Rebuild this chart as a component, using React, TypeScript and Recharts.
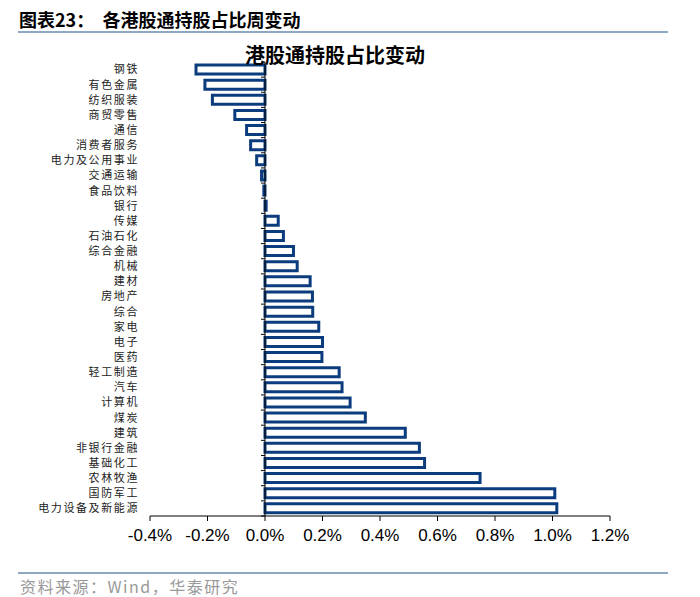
import { BarChart, Bar, XAxis, YAxis, ReferenceLine } from "recharts";

const industries = [
  "钢铁", "有色金属", "纺织服装", "商贸零售", "通信", "消费者服务", "电力及公用事业",
  "交通运输", "食品饮料", "银行", "传媒", "石油石化", "综合金融", "机械", "建材",
  "房地产", "综合", "家电", "电子", "医药", "轻工制造", "汽车", "计算机", "煤炭",
  "建筑", "非银行金融", "基础化工", "农林牧渔", "国防军工", "电力设备及新能源",
];

// weekly change of southbound holding ratio, in %
const changes = [
  -0.24, -0.209, -0.183, -0.105, -0.064, -0.05, -0.029,
  -0.012, -0.004, 0.004, 0.046, 0.064, 0.099, 0.112, 0.157,
  0.165, 0.166, 0.187, 0.2, 0.198, 0.258, 0.268, 0.296, 0.349,
  0.488, 0.537, 0.555, 0.748, 1.008, 1.015,
];

const xTicks = [-0.4, -0.2, 0, 0.2, 0.4, 0.6, 0.8, 1.0, 1.2];

const data = industries.map((name, i) => ({ name, value: changes[i] }));

const BLUE = "#0b3c7d";
const CJK = '"Noto Sans CJK SC", "Noto Sans", sans-serif';

// zero line with small tick marks at each category boundary
const ZeroAxis = (props: any) => {
  const { x1, y1, y2 } = props;
  const n = industries.length;
  const step = (y2 - y1) / n;
  const marks = [];
  for (let i = 0; i <= n; i++) {
    const y = y1 + step * i;
    marks.push(<line key={i} x1={x1 - 4} y1={y} x2={x1} y2={y} stroke="#000" strokeWidth={1} />);
  }
  return (
    <g>
      <line x1={x1} y1={y1} x2={x1} y2={y2} stroke="#000" strokeWidth={1} />
      {marks}
    </g>
  );
};

export default function App() {
  return (
    <div style={{ position: "absolute", left: 0, top: 0, width: 700, height: 597, background: "#fff", fontFamily: CJK, overflow: "hidden" }}>
      <div style={{ position: "absolute", left: 19, top: 6, fontSize: 18, fontWeight: 700, color: "#000", whiteSpace: "nowrap" }}>
        图表23：&nbsp;&nbsp;各港股通持股占比周变动
      </div>
      <div style={{ position: "absolute", left: 18, top: 31, width: 650, height: 2, background: "#8ea8c3" }} />

      <div style={{ position: "absolute", left: 0, top: 0 }}>
        <BarChart
          width={700}
          height={560}
          data={data}
          layout="vertical"
          margin={{ top: 62, right: 90, bottom: 14, left: 0 }}
          barCategoryGap={3}
        >
          <XAxis
            type="number"
            domain={[-0.4, 1.2]}
            ticks={xTicks}
            tickFormatter={(v: number) => `${v.toFixed(1)}%`}
            axisLine={{ stroke: "#000" }}
            tickLine={{ stroke: "#000" }}
            tickSize={5}
            tickMargin={8}
            height={30}
            tick={{ fontSize: 17, fill: "#000", fontFamily: '"Liberation Sans", Arial, sans-serif' }}
            interval={0}
          />
          <YAxis
            type="category"
            dataKey="name"
            width={150}
            axisLine={false}
            tickLine={false}
            tickSize={6}
            tickMargin={5}
            interval={0}
            tick={{ fontSize: 11, fill: "#222", fontFamily: CJK, letterSpacing: 1.6 }}
          />
          <Bar dataKey="value" fill="#fff" stroke={BLUE} strokeWidth={3} barSize={9} isAnimationActive={false} />
          <ReferenceLine x={0} shape={ZeroAxis} />
        </BarChart>
      </div>

      <div style={{ position: "absolute", left: 0, width: 670, top: 40, textAlign: "center", fontSize: 20, fontWeight: 700, color: "#000", whiteSpace: "nowrap" }}>
        港股通持股占比变动
      </div>

      <div style={{ position: "absolute", left: 18, top: 572, width: 650, height: 2, background: "#8ea8c3" }} />
      <div style={{ position: "absolute", left: 20, top: 577, fontSize: 16, lineHeight: "18px", color: "#999", whiteSpace: "nowrap", letterSpacing: 1.5 }}>
        资料来源：Wind，华泰研究
      </div>
    </div>
  );
}
